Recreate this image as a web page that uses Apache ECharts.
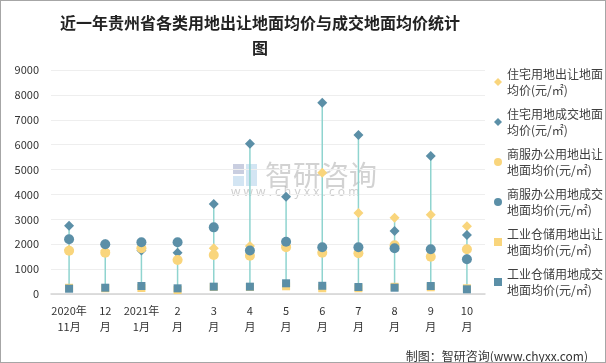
<!DOCTYPE html>
<html><head><meta charset="utf-8">
<script src="https://cdn.jsdelivr.net/npm/echarts@6/dist/echarts.min.js"></script>
<style>
html,body{margin:0;padding:0;background:#fff;}
#wrap{position:relative;width:606px;height:363px;}
#c{width:606px;height:363px;}
#frame{position:absolute;left:0;top:0;width:606px;height:363px;box-sizing:border-box;border:1px solid #a6a6a6;pointer-events:none;}
</style></head>
<body>
<div id="wrap"><div id="c"></div><div id="frame"></div></div>
<script>
var categories = ['2020年\n11月','12\n月','2021年\n1月','2\n月','3\n月','4\n月','5\n月','6\n月','7\n月','8\n月','9\n月','10\n月'];
var resSupply = [1780, 1740, 1850, 1380, 1835, 1930, 1950, 4874, 3254, 3066, 3186, 2720];
var resTrans  = [2744, 2000, 1750, 1660, 3616, 6040, 3910, 7687, 6388, 2531, 5544, 2370];
var comSupply = [1740, 1660, 1836, 1366, 1567, 1540, 1876, 1660, 1635, 1957, 1500, 1796];
var comTrans  = [2197, 1997, 2077, 2077, 2678, 1750, 2102, 1876, 1876, 1836, 1796, 1394];
var indSupply = [250, 230, 240, 160, 280, 280, 310, 230, 230, 290, 270, 230];
var indTrans  = [213, 253, 321, 228, 295, 295, 430, 330, 281, 253, 321, 188];
var seriesNames = ['住宅用地出让地面均价(元/㎡)','住宅用地成交地面均价(元/㎡)','商服办公用地出让地面均价(元/㎡)','商服办公用地成交地面均价(元/㎡)','工业仓储用地出让地面均价(元/㎡)','工业仓储用地成交地面均价(元/㎡)'];
var legendLabels = ['住宅用地出让地面\n均价(元/㎡)','住宅用地成交地面\n均价(元/㎡)','商服办公用地出让\n地面均价(元/㎡)','商服办公用地成交\n地面均价(元/㎡)','工业仓储用地出让\n地面均价(元/㎡)','工业仓储用地成交\n地面均价(元/㎡)'];
var yTicks = {min:0, max:9000, interval:1000};

var YEL = '#f9d57c', BLU = '#5b8fa7';
var all = [resSupply, resTrans, comSupply, comTrans, indSupply, indTrans];
var stemData = categories.map(function(c, i){
  var vals = all.map(function(a){return a[i];});
  return [i, Math.min.apply(null, vals), Math.max.apply(null, vals)];
});
var FONT = '"Noto Sans CJK SC", "Noto Sans", sans-serif';

var chart = echarts.init(document.getElementById('c'), null, {renderer:'canvas'});
function sc(name, data, symbol, size, color){
  return {type:'scatter', name:name, data:data, symbol:symbol, symbolSize:size,
    itemStyle:{color:color, opacity:1}, z:3, emphasis:{disabled:true}};
}
var icons = ['diamond','diamond','circle','circle','rect','rect'];
var option = {
  animation:false,
  textStyle:{fontFamily:FONT},
  title:[{
    text:'近一年贵州省各类用地出让地面均价与成交地面均价统计\n图',
    left:255, top:5, textAlign:'center',
    textStyle:{fontFamily:FONT, fontSize:16, fontWeight:'bold', color:'#222', lineHeight:25}
  },{
    text:'制图：智研咨询(www.chyxx.com)',
    right:13, top:345,
    textStyle:{fontFamily:FONT, fontSize:12, fontWeight:'normal', color:'#333'}
  }],
  graphic:[
    {type:'rect', left:233, top:164, shape:{width:11, height:10}, style:{fill:'#c9cee0'}, z:0},
    {type:'rect', left:246, top:164, shape:{width:11, height:22}, style:{fill:'#d3e5f3'}, z:0},
    {type:'rect', left:233, top:176, shape:{width:11, height:10}, style:{fill:'#d3e5f3'}, z:0},
    {type:'text', left:265, top:161, style:{text:'智研咨询', font:'28px "Noto Sans CJK SC"', fill:'rgba(165,165,165,0.5)'}, z:0},
    {type:'text', left:231, top:187, style:{text:'w w w . c h y x x . c o m', font:'12px "Noto Sans"', fill:'rgba(165,165,165,0.55)'}, z:0}
  ],
  legend:{
    orient:'vertical', left:494, top:58, padding:0, itemGap:-8,
    itemWidth:8, itemHeight:8,
    data: seriesNames.map(function(n,i){return {name:n, icon:icons[i]};}),
    formatter:function(n){ return legendLabels[seriesNames.indexOf(n)]; },
    textStyle:{fontFamily:FONT, fontSize:12, color:'#404040', lineHeight:16, padding:[16,0,0,0]}
  },
  grid:{left:51, right:121, top:70, bottom:69},
  xAxis:{
    type:'category', data:categories, boundaryGap:true,
    axisTick:{show:false},
    axisLine:{lineStyle:{color:'#d4d4d4', width:1.5}},
    axisLabel:{interval:0, fontFamily:FONT, fontSize:11, color:'#333', lineHeight:16, margin:9}
  },
  yAxis:{
    type:'value', min:yTicks.min, max:yTicks.max, interval:yTicks.interval,
    axisLine:{show:false}, axisTick:{show:false},
    splitLine:{lineStyle:{color:'#eeeeee', width:1}},
    axisLabel:{fontFamily:FONT, fontSize:11, color:'#333', margin:12, formatter:function(v){return String(v);}}
  },
  series:[
    {type:'custom', name:'stem', silent:true, z:1,
     renderItem:function(params, api){
       var lo = api.coord([api.value(0), api.value(1)]);
       var hi = api.coord([api.value(0), api.value(2)]);
       return {type:'line', shape:{x1:lo[0], y1:lo[1], x2:hi[0], y2:hi[1]}, style:{stroke:'#8fd4cf', lineWidth:1.5}};
     },
     encode:{x:0, y:[1,2]},
     data:stemData},
    sc(seriesNames[0], resSupply, 'diamond', 10, YEL),
    sc(seriesNames[1], resTrans, 'diamond', 10, BLU),
    sc(seriesNames[2], comSupply, 'circle', 10, YEL),
    sc(seriesNames[3], comTrans, 'circle', 10, BLU),
    sc(seriesNames[4], indSupply, 'rect', 8, YEL),
    sc(seriesNames[5], indTrans, 'rect', 8, BLU)
  ]
};
chart.setOption(option);
</script>
</body></html>
